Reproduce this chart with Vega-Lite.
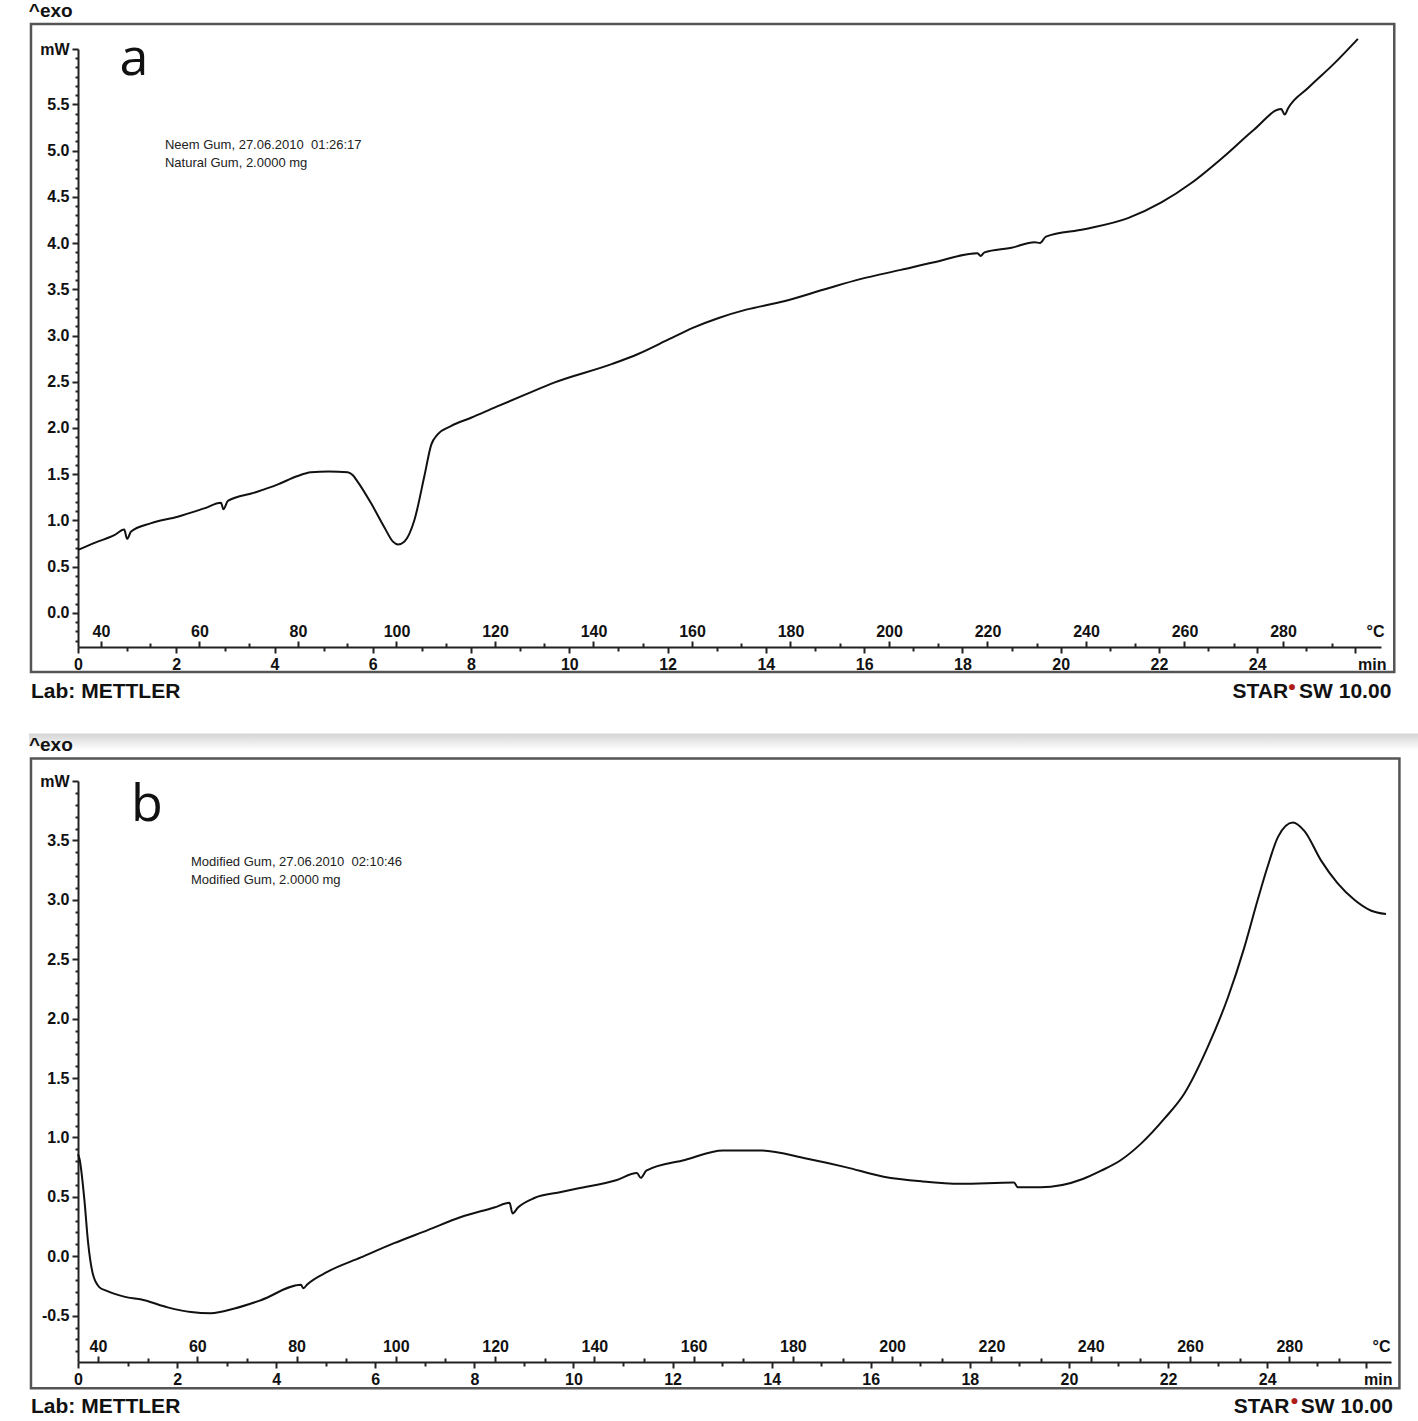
{
  "$schema": "https://vega.github.io/schema/vega-lite/v6.json",
  "padding": {"left": 28, "top": 2, "right": 5, "bottom": 5},
  "spacing": 30,
  "background": "white",
  "config": {
    "view": {"stroke": null},
    "axis": {
      "labelFont": "Liberation Sans", "labelFontWeight": "bold", "labelFontSize": 16, "labelColor": "#111",
      "titleFont": "Liberation Sans", "titleFontWeight": "bold", "titleFontSize": 16, "titleColor": "#111",
      "domainColor": "#222", "tickColor": "#222", "domainWidth": 2, "tickWidth": 2,
      "grid": false, "labelOverlap": false, "labelFlush": false
    }
  },
  "datasets": {
    "a": [
      {"t": 0.0, "mW": 0.68}, {"t": 0.35, "mW": 0.76}, {"t": 0.74, "mW": 0.84}, {"t": 0.94, "mW": 0.9},
      {"t": 1.0, "mW": 0.8}, {"t": 1.08, "mW": 0.88}, {"t": 1.49, "mW": 0.97}, {"t": 2.03, "mW": 1.04},
      {"t": 2.57, "mW": 1.13}, {"t": 2.91, "mW": 1.19}, {"t": 2.96, "mW": 1.12}, {"t": 3.05, "mW": 1.21},
      {"t": 3.59, "mW": 1.3}, {"t": 4.07, "mW": 1.39}, {"t": 4.47, "mW": 1.48}, {"t": 4.74, "mW": 1.52},
      {"t": 5.1, "mW": 1.53}, {"t": 5.49, "mW": 1.52}, {"t": 5.59, "mW": 1.49}, {"t": 5.69, "mW": 1.42},
      {"t": 5.96, "mW": 1.19}, {"t": 6.24, "mW": 0.92}, {"t": 6.41, "mW": 0.77}, {"t": 6.51, "mW": 0.74},
      {"t": 6.64, "mW": 0.77}, {"t": 6.85, "mW": 1.01}, {"t": 7.05, "mW": 1.48}, {"t": 7.19, "mW": 1.82},
      {"t": 7.32, "mW": 1.93}, {"t": 7.59, "mW": 2.02}, {"t": 8.0, "mW": 2.11}, {"t": 8.52, "mW": 2.23},
      {"t": 9.1, "mW": 2.36}, {"t": 9.69, "mW": 2.49}, {"t": 10.86, "mW": 2.69}, {"t": 11.4, "mW": 2.8},
      {"t": 12.03, "mW": 2.96}, {"t": 12.5, "mW": 3.08}, {"t": 13.04, "mW": 3.19}, {"t": 13.6, "mW": 3.28},
      {"t": 14.37, "mW": 3.37}, {"t": 15.2, "mW": 3.5}, {"t": 15.92, "mW": 3.61}, {"t": 16.75, "mW": 3.71},
      {"t": 17.4, "mW": 3.79}, {"t": 18.31, "mW": 3.89}, {"t": 18.37, "mW": 3.86}, {"t": 18.45, "mW": 3.9},
      {"t": 19.0, "mW": 3.95}, {"t": 19.47, "mW": 4.01}, {"t": 19.58, "mW": 4.0}, {"t": 19.7, "mW": 4.07},
      {"t": 20.48, "mW": 4.15}, {"t": 21.37, "mW": 4.27}, {"t": 22.05, "mW": 4.44}, {"t": 22.66, "mW": 4.65},
      {"t": 23.33, "mW": 4.94}, {"t": 23.94, "mW": 5.23}, {"t": 24.49, "mW": 5.45}, {"t": 24.56, "mW": 5.39},
      {"t": 24.63, "mW": 5.46}, {"t": 25.04, "mW": 5.68}, {"t": 25.58, "mW": 5.95}, {"t": 26.05, "mW": 6.21}
    ],
    "b": [
      {"t": 0.0, "mW": 0.86}, {"t": 0.03, "mW": 0.82}, {"t": 0.13, "mW": 0.47}, {"t": 0.2, "mW": 0.13},
      {"t": 0.3, "mW": -0.15}, {"t": 0.43, "mW": -0.26}, {"t": 0.57, "mW": -0.29}, {"t": 0.93, "mW": -0.34},
      {"t": 1.34, "mW": -0.37}, {"t": 1.81, "mW": -0.43}, {"t": 2.28, "mW": -0.47}, {"t": 2.68, "mW": -0.48},
      {"t": 3.16, "mW": -0.44}, {"t": 3.69, "mW": -0.37}, {"t": 4.5, "mW": -0.24}, {"t": 4.55, "mW": -0.27},
      {"t": 4.62, "mW": -0.24}, {"t": 5.04, "mW": -0.13}, {"t": 5.71, "mW": -0.01}, {"t": 6.38, "mW": 0.11},
      {"t": 7.06, "mW": 0.22}, {"t": 7.73, "mW": 0.33}, {"t": 8.4, "mW": 0.41}, {"t": 8.71, "mW": 0.45},
      {"t": 8.77, "mW": 0.36}, {"t": 8.88, "mW": 0.41}, {"t": 9.21, "mW": 0.49}, {"t": 9.75, "mW": 0.54},
      {"t": 10.08, "mW": 0.57}, {"t": 10.86, "mW": 0.64}, {"t": 11.28, "mW": 0.7}, {"t": 11.36, "mW": 0.66},
      {"t": 11.47, "mW": 0.72}, {"t": 12.25, "mW": 0.81}, {"t": 13.02, "mW": 0.89}, {"t": 13.79, "mW": 0.89},
      {"t": 14.72, "mW": 0.82}, {"t": 15.49, "mW": 0.75}, {"t": 16.26, "mW": 0.67}, {"t": 17.04, "mW": 0.63},
      {"t": 17.81, "mW": 0.61}, {"t": 18.89, "mW": 0.62}, {"t": 18.97, "mW": 0.58}, {"t": 19.43, "mW": 0.58},
      {"t": 20.28, "mW": 0.65}, {"t": 20.65, "mW": 0.72}, {"t": 21.05, "mW": 0.81}, {"t": 21.46, "mW": 0.95},
      {"t": 21.93, "mW": 1.16}, {"t": 22.33, "mW": 1.37}, {"t": 22.8, "mW": 1.76}, {"t": 23.21, "mW": 2.18},
      {"t": 23.54, "mW": 2.6}, {"t": 23.81, "mW": 3.0}, {"t": 24.01, "mW": 3.28}, {"t": 24.22, "mW": 3.53},
      {"t": 24.52, "mW": 3.65}, {"t": 24.75, "mW": 3.58}, {"t": 25.09, "mW": 3.33}, {"t": 25.42, "mW": 3.14},
      {"t": 25.76, "mW": 3.0}, {"t": 26.09, "mW": 2.91}, {"t": 26.4, "mW": 2.88}
    ]
  },
  "vconcat": [
    {
      "width": 1303,
      "height": 598,
      "data": {"values": [{}]},
      "layer": [
        {
          "layer": [
            {
              "data": {"name": "a"},
              "mark": {"type": "line", "color": "#111", "strokeWidth": 2, "strokeJoin": "round", "interpolate": "monotone"},
              "encoding": {
                "x": {
                  "field": "t", "type": "quantitative",
                  "scale": {"domain": [0, 26.52], "nice": false, "zero": false},
                  "axis": {
                    "orient": "bottom", "title": "min", "labelOverlap": false, "tickCount": 200,
                    "values": [0,1,2,3,4,5,6,7,8,9,10,11,12,13,14,15,16,17,18,19,20,21,22,23,24,25,26],
                    "labelExpr": "datum.value % 2 === 0 && datum.value < 25 ? format(datum.value, 'd') : ''",
                    "tickSize": {"condition": {"test": "datum.value % 2 === 0", "value": 6}, "value": 4},
                    "labelPadding": 3,
                    "titleX": 1308, "titleY": 17, "titleAlign": "right", "titleBaseline": "middle"
                  }
                },
                "y": {
                  "field": "mW", "type": "quantitative",
                  "scale": {"domain": [-0.37, 6.1], "nice": false, "zero": false},
                  "axis": {
                    "orient": "left", "title": null, "labelOverlap": false, "tickCount": 200,
                    "values": [-0.3,-0.2,-0.1,0,0.1,0.2,0.3,0.4,0.5,0.6,0.7,0.8,0.9,1.0,1.1,1.2,1.3,1.4,1.5,1.6,1.7,1.8,1.9,2.0,2.1,2.2,2.3,2.4,2.5,2.6,2.7,2.8,2.9,3.0,3.1,3.2,3.3,3.4,3.5,3.6,3.7,3.8,3.9,4.0,4.1,4.2,4.3,4.4,4.5,4.6,4.7,4.8,4.9,5.0,5.1,5.2,5.3,5.4,5.5,5.6,5.7,5.8,5.9,6.0,6.1],
                    "labelExpr": "datum.value > 6.05 ? 'mW' : (datum.value < 5.75 && abs(datum.value*2 - round(datum.value*2)) < 0.01 ? replace(format(datum.value, '.1f'), '\u2212', '-') : '')",
                    "labelFontSize": {"condition": {"test": "datum.value > 6.05 || (datum.value < 5.75 && abs(datum.value*2 - round(datum.value*2)) < 0.01)", "value": 16}, "value": 0},
                    "tickSize": {"condition": {"test": "datum.value > 6.05 || (datum.value < 5.75 && abs(datum.value*2 - round(datum.value*2)) < 0.01)", "value": 6}, "value": 3},
                    "labelPadding": 3
                  }
                }
              }
            },
            {
              "mark": {"type": "rect", "fill": null, "stroke": "#555", "strokeWidth": 2.5},
              "encoding": {
                "x": {"datum": -0.957, "type": "quantitative", "scale": {"domain": [0, 26.52], "nice": false, "zero": false}},
                "x2": {"datum": 26.79},
                "y": {"datum": 6.37, "type": "quantitative", "scale": {"domain": [-0.37, 6.1], "nice": false, "zero": false}},
                "y2": {"datum": -0.64}
              }
            },
            {
              "mark": {"type": "text", "align": "left", "baseline": "middle", "font": "Liberation Sans", "fontWeight": "bold", "fontSize": 19, "color": "#111"},
              "encoding": {
                "x": {"datum": -1.0, "type": "quantitative"},
                "y": {"datum": 6.51, "type": "quantitative"},
                "text": {"value": "^exo"}
              }
            },
            {
              "mark": {"type": "text", "align": "center", "baseline": "middle", "font": "Open Sans", "fontSize": 52, "color": "#111"},
              "encoding": {
                "x": {"datum": 1.14, "type": "quantitative"},
                "y": {"datum": 5.99, "type": "quantitative"},
                "text": {"value": "a"}
              }
            },
            {
              "mark": {"type": "text", "align": "left", "baseline": "middle", "font": "Liberation Sans", "fontSize": 13, "color": "#222"},
              "encoding": {
                "x": {"datum": 1.77, "type": "quantitative"},
                "y": {"datum": 5.06, "type": "quantitative"},
                "text": {"value": "Neem Gum, 27.06.2010\u00a0 01:26:17"}
              }
            },
            {
              "mark": {"type": "text", "align": "left", "baseline": "middle", "font": "Liberation Sans", "fontSize": 13, "color": "#222"},
              "encoding": {
                "x": {"datum": 1.77, "type": "quantitative"},
                "y": {"datum": 4.87, "type": "quantitative"},
                "text": {"value": "Natural Gum, 2.0000 mg"}
              }
            },
            {
              "mark": {"type": "text", "align": "left", "baseline": "middle", "font": "Liberation Sans", "fontWeight": "bold", "fontSize": 21, "color": "#111"},
              "encoding": {
                "x": {"datum": -0.957, "type": "quantitative"},
                "y": {"datum": -0.86, "type": "quantitative"},
                "text": {"value": "Lab: METTLER"}
              }
            },
            {
              "mark": {"type": "text", "align": "right", "baseline": "middle", "font": "Liberation Sans", "fontWeight": "bold", "fontSize": 21, "color": "#111"},
              "encoding": {
                "x": {"datum": 24.63, "type": "quantitative"},
                "y": {"datum": -0.86, "type": "quantitative"},
                "text": {"value": "STAR"}
              }
            },
            {
              "mark": {"type": "text", "align": "center", "baseline": "middle", "font": "Liberation Sans", "fontWeight": "bold", "fontSize": 14, "color": "#b01c1c"},
              "encoding": {
                "x": {"datum": 24.71, "type": "quantitative"},
                "y": {"datum": -0.8, "type": "quantitative"},
                "text": {"value": "\u25cf"}
              }
            },
            {
              "mark": {"type": "text", "align": "right", "baseline": "middle", "font": "Liberation Sans", "fontWeight": "bold", "fontSize": 21, "color": "#111"},
              "encoding": {
                "x": {"datum": 26.73, "type": "quantitative"},
                "y": {"datum": -0.86, "type": "quantitative"},
                "text": {"value": "SW 10.00"}
              }
            }
          ]
        },
        {
          "mark": {"type": "point", "opacity": 0},
          "encoding": {
            "x": {
              "datum": 100, "type": "quantitative",
              "scale": {"domain": [35.33, 299.9], "nice": false, "zero": false},
              "axis": {
                "orient": "bottom", "title": "°C", "domain": false, "labelOverlap": false, "tickCount": 200,
                "values": [40,50,60,70,80,90,100,110,120,130,140,150,160,170,180,190,200,210,220,230,240,250,260,270,280,290],
                "labelExpr": "datum.value % 20 === 0 ? format(datum.value, 'd') : ''",
                "tickSize": {"condition": {"test": "datum.value % 20 === 0", "value": -6}, "value": -4},
                "labelPadding": -18,
                "titleX": 1306, "titleY": -16, "titleAlign": "right", "titleBaseline": "middle"
              }
            }
          }
        }
      ],
      "resolve": {"scale": {"x": "independent"}, "axis": {"x": "independent"}}
    },
    {
      "width": 1313,
      "height": 581,
      "data": {"values": [{}]},
      "layer": [
        {
          "layer": [
            {
              "data": {"name": "b"},
              "mark": {"type": "line", "color": "#111", "strokeWidth": 2, "strokeJoin": "round", "interpolate": "monotone"},
              "encoding": {
                "x": {
                  "field": "t", "type": "quantitative",
                  "scale": {"domain": [0, 26.5], "nice": false, "zero": false},
                  "axis": {
                    "orient": "bottom", "title": "min", "labelOverlap": false, "tickCount": 200,
                    "values": [0,1,2,3,4,5,6,7,8,9,10,11,12,13,14,15,16,17,18,19,20,21,22,23,24,25,26],
                    "labelExpr": "datum.value % 2 === 0 && datum.value < 25 ? format(datum.value, 'd') : ''",
                    "tickSize": {"condition": {"test": "datum.value % 2 === 0", "value": 6}, "value": 4},
                    "labelPadding": 3,
                    "titleX": 1314, "titleY": 17, "titleAlign": "right", "titleBaseline": "middle"
                  }
                },
                "y": {
                  "field": "mW", "type": "quantitative",
                  "scale": {"domain": [-0.89, 4.0], "nice": false, "zero": false},
                  "axis": {
                    "orient": "left", "title": null, "labelOverlap": false, "tickCount": 200,
                    "values": [-0.8,-0.7,-0.6,-0.5,-0.4,-0.3,-0.2,-0.1,0,0.1,0.2,0.3,0.4,0.5,0.6,0.7,0.8,0.9,1.0,1.1,1.2,1.3,1.4,1.5,1.6,1.7,1.8,1.9,2.0,2.1,2.2,2.3,2.4,2.5,2.6,2.7,2.8,2.9,3.0,3.1,3.2,3.3,3.4,3.5,3.6,3.7,3.8,3.9,4.0],
                    "labelExpr": "datum.value > 3.95 ? 'mW' : (abs(datum.value*2 - round(datum.value*2)) < 0.01 ? replace(format(datum.value, '.1f'), '\u2212', '-') : '')",
                    "labelFontSize": {"condition": {"test": "datum.value > 3.95 || abs(datum.value*2 - round(datum.value*2)) < 0.01", "value": 16}, "value": 0},
                    "tickSize": {"condition": {"test": "datum.value > 3.95 || abs(datum.value*2 - round(datum.value*2)) < 0.01", "value": 6}, "value": 3},
                    "labelPadding": 3
                  }
                }
              }
            },
            {
              "mark": {"type": "rect", "fill": {"gradient": "linear", "x1": 0, "y1": 0, "x2": 0, "y2": 1, "stops": [{"offset": 0, "color": "#d4d4d4"}, {"offset": 0.6, "color": "#eeeeee"}, {"offset": 1, "color": "#ffffff"}]}},
              "encoding": {
                "x": {"datum": -0.989, "type": "quantitative", "scale": {"domain": [0, 26.5], "nice": false, "zero": false}},
                "x2": {"datum": 27.07},
                "y": {"datum": 4.4, "type": "quantitative", "scale": {"domain": [-0.89, 4.0], "nice": false, "zero": false}},
                "y2": {"datum": 4.26}
              }
            },
            {
              "mark": {"type": "rect", "fill": null, "stroke": "#555", "strokeWidth": 2.5},
              "encoding": {
                "x": {"datum": -0.949, "type": "quantitative"},
                "x2": {"datum": 26.67},
                "y": {"datum": 4.19, "type": "quantitative"},
                "y2": {"datum": -1.11}
              }
            },
            {
              "mark": {"type": "text", "align": "left", "baseline": "middle", "font": "Liberation Sans", "fontWeight": "bold", "fontSize": 19, "color": "#111"},
              "encoding": {
                "x": {"datum": -0.99, "type": "quantitative"},
                "y": {"datum": 4.3, "type": "quantitative"},
                "text": {"value": "^exo"}
              }
            },
            {
              "mark": {"type": "text", "align": "center", "baseline": "middle", "font": "Open Sans", "fontSize": 52, "color": "#111"},
              "encoding": {
                "x": {"datum": 1.39, "type": "quantitative"},
                "y": {"datum": 3.8, "type": "quantitative"},
                "text": {"value": "b"}
              }
            },
            {
              "mark": {"type": "text", "align": "left", "baseline": "middle", "font": "Liberation Sans", "fontSize": 13, "color": "#222"},
              "encoding": {
                "x": {"datum": 2.28, "type": "quantitative"},
                "y": {"datum": 3.32, "type": "quantitative"},
                "text": {"value": "Modified Gum, 27.06.2010\u00a0 02:10:46"}
              }
            },
            {
              "mark": {"type": "text", "align": "left", "baseline": "middle", "font": "Liberation Sans", "fontSize": 13, "color": "#222"},
              "encoding": {
                "x": {"datum": 2.28, "type": "quantitative"},
                "y": {"datum": 3.17, "type": "quantitative"},
                "text": {"value": "Modified Gum, 2.0000 mg"}
              }
            },
            {
              "mark": {"type": "text", "align": "left", "baseline": "middle", "font": "Liberation Sans", "fontWeight": "bold", "fontSize": 21, "color": "#111"},
              "encoding": {
                "x": {"datum": -0.949, "type": "quantitative"},
                "y": {"datum": -1.268, "type": "quantitative"},
                "text": {"value": "Lab: METTLER"}
              }
            },
            {
              "mark": {"type": "text", "align": "right", "baseline": "middle", "font": "Liberation Sans", "fontWeight": "bold", "fontSize": 21, "color": "#111"},
              "encoding": {
                "x": {"datum": 24.45, "type": "quantitative"},
                "y": {"datum": -1.268, "type": "quantitative"},
                "text": {"value": "STAR"}
              }
            },
            {
              "mark": {"type": "text", "align": "center", "baseline": "middle", "font": "Liberation Sans", "fontWeight": "bold", "fontSize": 14, "color": "#b01c1c"},
              "encoding": {
                "x": {"datum": 24.55, "type": "quantitative"},
                "y": {"datum": -1.22, "type": "quantitative"},
                "text": {"value": "\u25cf"}
              }
            },
            {
              "mark": {"type": "text", "align": "right", "baseline": "middle", "font": "Liberation Sans", "fontWeight": "bold", "fontSize": 21, "color": "#111"},
              "encoding": {
                "x": {"datum": 26.54, "type": "quantitative"},
                "y": {"datum": -1.268, "type": "quantitative"},
                "text": {"value": "SW 10.00"}
              }
            }
          ]
        },
        {
          "mark": {"type": "point", "opacity": 0},
          "encoding": {
            "x": {
              "datum": 100, "type": "quantitative",
              "scale": {"domain": [35.97, 300.5], "nice": false, "zero": false},
              "axis": {
                "orient": "bottom", "title": "°C", "domain": false, "labelOverlap": false, "tickCount": 200,
                "values": [40,50,60,70,80,90,100,110,120,130,140,150,160,170,180,190,200,210,220,230,240,250,260,270,280,290],
                "labelExpr": "datum.value % 20 === 0 ? format(datum.value, 'd') : ''",
                "tickSize": {"condition": {"test": "datum.value % 20 === 0", "value": -6}, "value": -4},
                "labelPadding": -18,
                "titleX": 1312, "titleY": -16, "titleAlign": "right", "titleBaseline": "middle"
              }
            }
          }
        }
      ],
      "resolve": {"scale": {"x": "independent"}, "axis": {"x": "independent"}}
    }
  ]
}
